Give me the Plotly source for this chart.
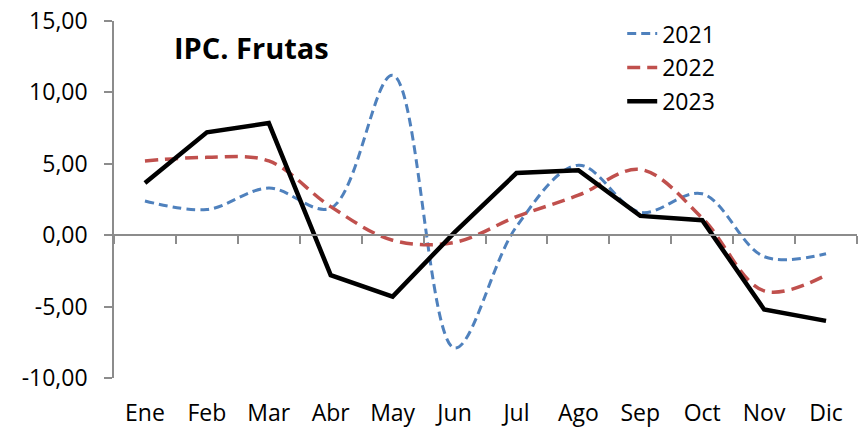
import plotly.graph_objects as go

months = ["Ene", "Feb", "Mar", "Abr", "May", "Jun", "Jul", "Ago", "Sep", "Oct", "Nov", "Dic"]
v2021 = [2.4, 1.8, 3.3, 1.9, 11.2, -7.9, 0.6, 4.9, 1.6, 2.9, -1.5, -1.3]
v2022 = [5.2, 5.45, 5.2, 2.0, -0.35, -0.5, 1.3, 2.8, 4.6, 1.2, -3.9, -2.8]
v2023 = [3.65, 7.2, 7.85, -2.8, -4.3, 0.2, 4.35, 4.55, 1.35, 1.05, -5.2, -6.0]
ytickvals = [-10, -5, 0, 5, 10, 15]
yticktext = ["-10,00", "-5,00", "0,00", "5,00", "10,00", "15,00"]

FONT = "Open Sans"

fig = go.Figure()
fig.add_trace(go.Scatter(x=months, y=v2021, name="2021", mode="lines", legendgroup="a",
                         line=dict(color="#4F81BD", width=3, dash="9px,5px", shape="spline", smoothing=1)))
fig.add_trace(go.Scatter(x=months, y=v2022, name="2022", mode="lines", legendgroup="b",
                         line=dict(color="#C0504D", width=3.5, dash="13px,7px", shape="spline", smoothing=1)))
fig.add_trace(go.Scatter(x=months, y=v2023, name="2023", mode="lines", legendgroup="c",
                         line=dict(color="#000000", width=4.5)))

fig.update_layout(
    width=858, height=432,
    margin=dict(l=114, r=1, t=21, b=54, autoexpand=False),
    paper_bgcolor="white", plot_bgcolor="white",
    font=dict(family=FONT, size=23, color="black"),
    showlegend=True,
    legend=dict(x=0.684, y=1.025, xanchor="left", yanchor="top", bgcolor="rgba(0,0,0,0)",
                traceorder="grouped", tracegroupgap=1, font=dict(size=23)),
    xaxis=dict(type="category", categoryarray=months, range=[-0.5, 11.5], automargin=False,
               anchor="free", position=0.4, showline=True, linecolor="#8C8C8C", linewidth=1.5,
               ticks="outside", tickson="boundaries", ticklen=8, tickcolor="#8C8C8C", tickwidth=1.5,
               showgrid=False, zeroline=False, ticklabelstandoff=157,
               tickfont=dict(size=23)),
    yaxis=dict(range=[-10, 15], tickvals=ytickvals, ticktext=yticktext, automargin=False,
               showline=True, linecolor="#8C8C8C", linewidth=1.5, ticklabelstandoff=12,
               ticks="outside", ticklen=8, tickcolor="#8C8C8C", tickwidth=1.5,
               showgrid=False, zeroline=False, tickfont=dict(size=23)),
    annotations=[dict(text="<b>IPC. Frutas</b>", xref="paper", yref="paper", x=0.078, y=0.927,
                      xanchor="left", yanchor="middle", showarrow=False,
                      font=dict(size=29, family=FONT, color="black"))],
)

fig.write_html("out.html", config={"displayModeBar": False},
               post_script="document.body.style.margin='0';")
